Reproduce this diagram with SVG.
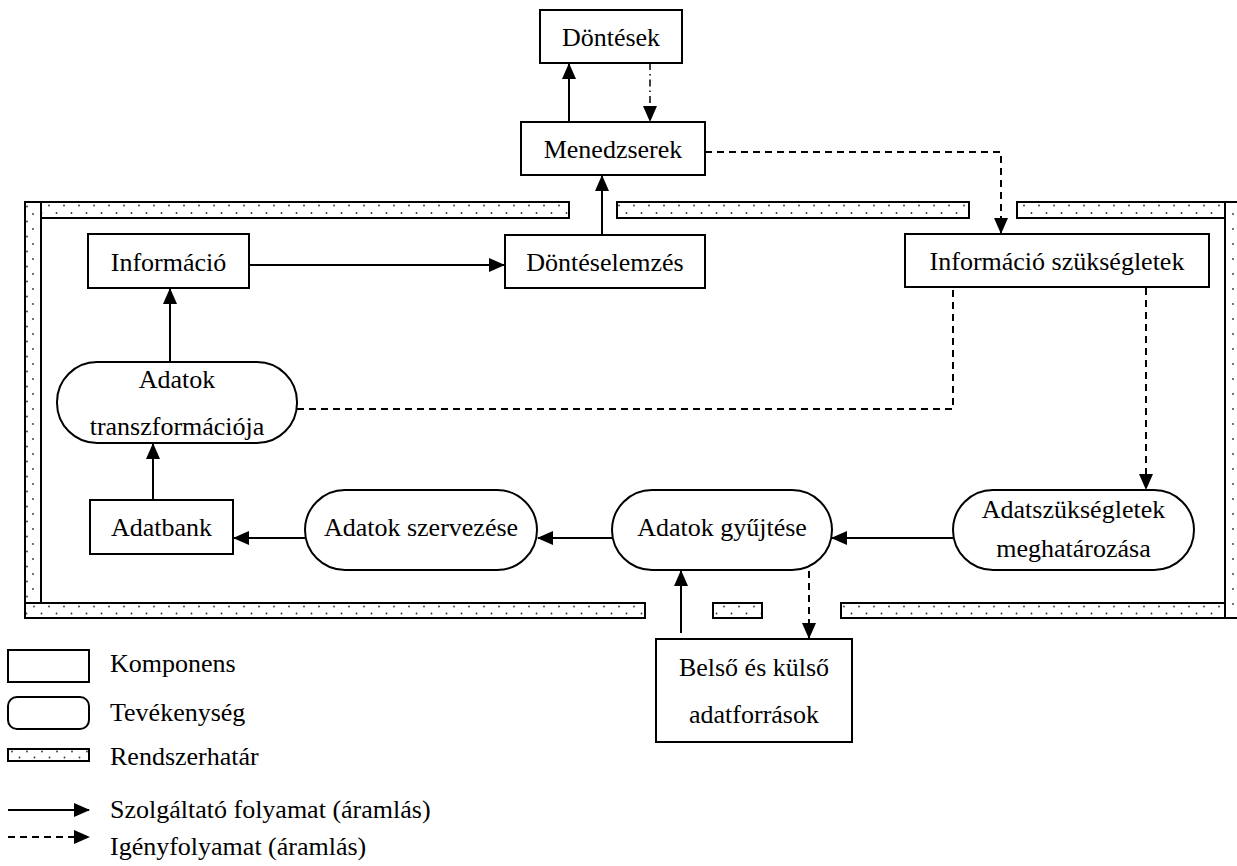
<svg xmlns="http://www.w3.org/2000/svg" width="1237" height="866" viewBox="0 0 1237 866">
<style>
.box{fill:#fff;stroke:#000;stroke-width:2}
.strip{stroke:#000;stroke-width:2}
.t{font-family:"Liberation Serif","Times New Roman",serif;font-size:26px;fill:#000}
.c{text-anchor:middle}
.s{fill:none;stroke:#000;stroke-width:2}
.d{fill:none;stroke:#000;stroke-width:2;stroke-dasharray:7,5}
.dd{fill:none;stroke:#000;stroke-width:1.5;stroke-dasharray:7,4,1.5,4}
</style>
<defs>
<marker id="ah" markerUnits="userSpaceOnUse" markerWidth="16" markerHeight="14" refX="15" refY="7" orient="auto">
<path d="M0,0 L16,7 L0,14 Z" fill="#000"/>
</marker>
<pattern id="pTop" patternUnits="userSpaceOnUse" x="0" y="202" width="15" height="16">
<rect width="15" height="16" fill="#fff"/>
<circle cx="4" cy="3.5" r="0.9" fill="#333"/><circle cx="11.5" cy="11" r="0.9" fill="#333"/>
</pattern>
<pattern id="pBot" patternUnits="userSpaceOnUse" x="0" y="603" width="15" height="15">
<rect width="15" height="15" fill="#fff"/>
<circle cx="4" cy="3.5" r="0.9" fill="#333"/><circle cx="11.5" cy="10.5" r="0.9" fill="#333"/>
</pattern>
<pattern id="pL" patternUnits="userSpaceOnUse" x="25" y="0" width="16" height="15">
<rect width="16" height="15" fill="#fff"/>
<circle cx="8" cy="4" r="0.9" fill="#333"/><circle cx="2" cy="11.5" r="0.9" fill="#333"/>
</pattern>
<pattern id="pR" patternUnits="userSpaceOnUse" x="1225" y="0" width="20" height="15">
<rect width="20" height="15" fill="#fff"/>
<circle cx="8" cy="4" r="0.9" fill="#333"/>
</pattern>
<pattern id="pLeg" patternUnits="userSpaceOnUse" x="8" y="749" width="15" height="12">
<rect width="15" height="12" fill="#fff"/>
<circle cx="4" cy="2.5" r="0.9" fill="#333"/><circle cx="11.5" cy="8.5" r="0.9" fill="#333"/>
</pattern>
</defs>

<g id="boundary">
<rect class="strip" x="25" y="202" width="16" height="416" fill="url(#pL)"/>
<rect class="strip" x="1225" y="202" width="20" height="416" fill="url(#pR)"/>
<rect class="strip" x="41" y="202" width="528" height="16" fill="url(#pTop)"/>
<rect class="strip" x="617" y="202" width="352" height="16" fill="url(#pTop)"/>
<rect class="strip" x="1017" y="202" width="208" height="16" fill="url(#pTop)"/>
<rect class="strip" x="25" y="603" width="620" height="15" fill="url(#pBot)"/>
<rect class="strip" x="713" y="603" width="49" height="15" fill="url(#pBot)"/>
<rect class="strip" x="841" y="603" width="384" height="15" fill="url(#pBot)"/>
</g>

<g id="connectors">
<line class="s" x1="569" y1="122" x2="569" y2="64" marker-end="url(#ah)"/>
<line class="dd" x1="650" y1="63" x2="650" y2="121" marker-end="url(#ah)"/>
<polyline class="d" points="705,152 1001,152 1001,233" marker-end="url(#ah)"/>
<line class="s" x1="602" y1="235" x2="602" y2="176" marker-end="url(#ah)"/>
<line class="s" x1="249" y1="265" x2="504" y2="265" marker-end="url(#ah)"/>
<line class="s" x1="170" y1="362" x2="170" y2="289" marker-end="url(#ah)"/>
<polyline class="d" points="297,409 953,409 953,288"/>
<line class="d" x1="1146" y1="288" x2="1146" y2="489" marker-end="url(#ah)"/>
<line class="s" x1="953" y1="538" x2="832" y2="538" marker-end="url(#ah)"/>
<line class="s" x1="612" y1="538" x2="538" y2="538" marker-end="url(#ah)"/>
<line class="s" x1="305" y1="538" x2="234" y2="538" marker-end="url(#ah)"/>
<line class="s" x1="153" y1="500" x2="153" y2="444" marker-end="url(#ah)"/>
<line class="s" x1="681" y1="633" x2="681" y2="571" marker-end="url(#ah)"/>
<line class="d" x1="809" y1="571" x2="809" y2="638" marker-end="url(#ah)"/>
</g>

<g id="dontesek">
<rect class="box" x="540" y="10" width="142" height="53"/>
<text class="t c" x="611" y="46">Döntések</text>
</g>
<g id="menedzserek">
<rect class="box" x="521" y="122" width="184" height="53"/>
<text class="t c" x="613" y="158">Menedzserek</text>
</g>
<g id="informacio">
<rect class="box" x="88" y="234" width="161" height="54"/>
<text class="t c" x="168.5" y="271">Információ</text>
</g>
<g id="donteselemzes">
<rect class="box" x="505" y="235" width="200" height="53"/>
<text class="t c" x="605" y="271">Döntéselemzés</text>
</g>
<g id="info-szuksegletek">
<rect class="box" x="905" y="234" width="304" height="53"/>
<text class="t c" x="1057" y="270">Információ szükségletek</text>
</g>
<g id="adatok-transzformacioja">
<rect class="box" x="57" y="362" width="240" height="81" rx="40" ry="40"/>
<text class="t c" x="177" y="388">Adatok</text>
<text class="t c" x="177" y="435">transzformációja</text>
</g>
<g id="adatbank">
<rect class="box" x="90" y="500" width="143" height="54"/>
<text class="t c" x="161.5" y="536">Adatbank</text>
</g>
<g id="adatok-szervezese">
<rect class="box" x="305" y="490" width="232" height="80" rx="40" ry="40"/>
<text class="t c" x="421" y="536">Adatok szervezése</text>
</g>
<g id="adatok-gyujtese">
<rect class="box" x="612" y="490" width="220" height="80" rx="40" ry="40"/>
<text class="t c" x="722" y="536">Adatok gyűjtése</text>
</g>
<g id="adatszuksegletek">
<rect class="box" x="953" y="490" width="241" height="80" rx="40" ry="40"/>
<text class="t c" x="1073.5" y="518">Adatszükségletek</text>
<text class="t c" x="1073.5" y="557">meghatározása</text>
</g>
<g id="belso-kulso">
<rect class="box" x="656" y="639" width="196" height="103"/>
<text class="t c" x="754" y="676">Belső és külső</text>
<text class="t c" x="754" y="723">adatforrások</text>
</g>

<g id="legend">
<rect class="box" x="8" y="650" width="81" height="32"/>
<text class="t" x="110" y="672">Komponens</text>
<rect class="box" x="8" y="697" width="81" height="32" rx="9" ry="9"/>
<text class="t" x="110" y="721">Tevékenység</text>
<rect class="strip" x="8" y="749" width="81" height="12" fill="url(#pLeg)"/>
<text class="t" x="110" y="765">Rendszerhatár</text>
<line class="s" x1="8" y1="810" x2="89" y2="810" marker-end="url(#ah)"/>
<text class="t" x="110" y="818">Szolgáltató folyamat (áramlás)</text>
<line class="d" x1="8" y1="837" x2="89" y2="837" marker-end="url(#ah)"/>
<text class="t" x="110" y="855">Igényfolyamat (áramlás)</text>
</g>
</svg>
